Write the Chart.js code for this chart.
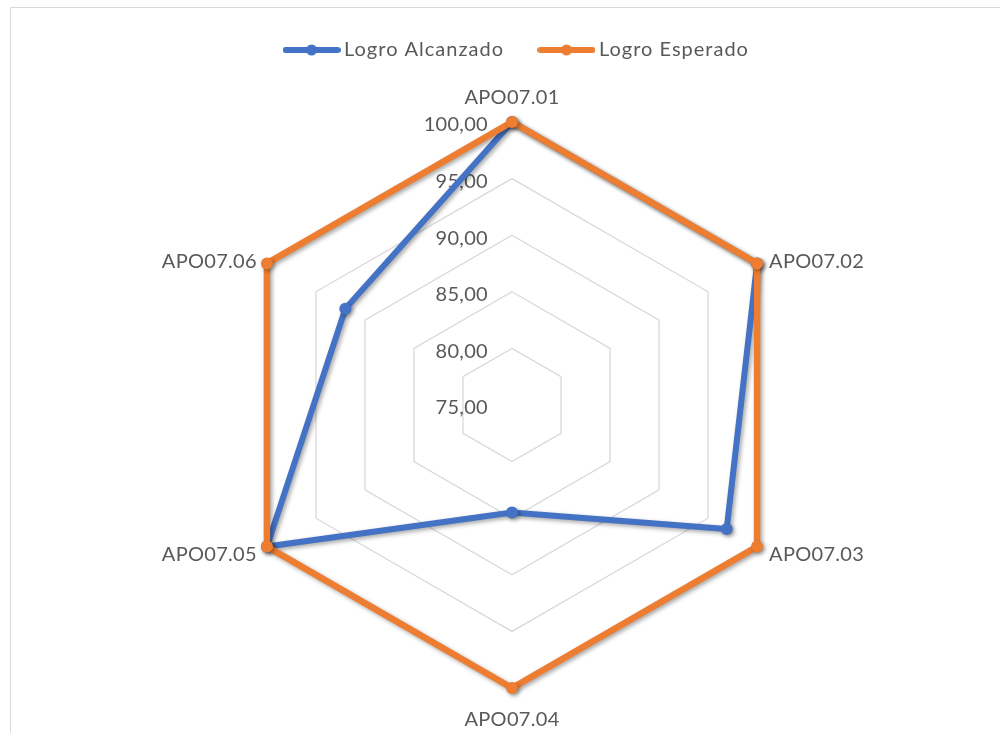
<!DOCTYPE html>
<html>
<head>
<meta charset="utf-8">
<script src="https://cdn.jsdelivr.net/npm/chart.js@4.4.1/dist/chart.umd.min.js"></script>
<style>
  html, body { margin: 0; padding: 0; background: #fff; }
  #wrap { position: relative; width: 1000px; height: 733px; overflow: hidden; }
  #frame { position: absolute; left: 10px; top: 7px; width: 1000px; height: 740px; border-left: 1px solid #d9d9d9; border-top: 1px solid #d9d9d9; }
  canvas { position: absolute; left: 0; top: 0; }
</style>
</head>
<body>
<div id="wrap">
  <div id="frame"></div>
  <canvas id="radar" width="1000" height="733"></canvas>
</div>
<script>
// datos
const categorias = ['APO07.01', 'APO07.02', 'APO07.03', 'APO07.04', 'APO07.05', 'APO07.06'];
const logroAlcanzado = [100, 100, 96.9, 84.5, 100, 92.0];
const logroEsperado = [100, 100, 100, 100, 100, 100];
const escalaMin = 75;
const escalaMax = 100;
const escalaPaso = 5;

const azul = '#4472C4';
const naranja = '#ED7D31';
const gris = '#595959';
const fuente = 'Lato, "Open Sans", sans-serif';

// icono de leyenda: linea con punto
function iconoLeyenda(color) {
  const c = document.createElement('canvas');
  c.width = 58;
  c.height = 12;
  const g = c.getContext('2d');
  g.strokeStyle = color;
  g.lineWidth = 6;
  g.lineCap = 'round';
  g.beginPath();
  g.moveTo(3, 6);
  g.lineTo(55, 6);
  g.stroke();
  g.fillStyle = color;
  g.beginPath();
  g.arc(29, 6, 5.5, 0, Math.PI * 2);
  g.fill();
  return c;
}

// sombra de las lineas como en Excel
const sombra = {
  id: 'sombra',
  beforeDatasetDraw(chart) {
    const ctx = chart.ctx;
    ctx.save();
    ctx.shadowColor = 'rgba(0,0,0,0.35)';
    ctx.shadowBlur = 4;
    ctx.shadowOffsetX = 2;
    ctx.shadowOffsetY = 2;
  },
  afterDatasetDraw(chart) {
    chart.ctx.restore();
  }
};

// espacio extra bajo la leyenda + espaciado de letras
const espaciado = {
  id: 'espaciado',
  beforeInit(chart) {
    const leyenda = chart.legend;
    const fit = leyenda.fit;
    leyenda.fit = function () {
      fit.call(this);
      this.height += 32;
    };
    const draw = leyenda.draw;
    leyenda.draw = function () {
      this.ctx.save();
      this.ctx.translate(7, 0);
      draw.call(this);
      this.ctx.restore();
    };
  },
  beforeUpdate(chart) {
    chart.ctx.letterSpacing = '1px';
  },
  beforeDraw(chart) {
    chart.ctx.letterSpacing = '1px';
  }
};

// etiquetas del eje y de las categorias al estilo Excel
const etiquetas = {
  id: 'etiquetas',
  beforeDatasetsDraw(chart) {
    const ctx = chart.ctx;
    const r = chart.scales.r;
    ctx.save();
    ctx.fillStyle = gris;
    ctx.font = '20px ' + fuente;
    ctx.letterSpacing = '0.3px';
    ctx.textAlign = 'right';
    ctx.textBaseline = 'middle';
    r.ticks.forEach(t => {
      const d = r.getDistanceFromCenterForValue(t.value);
      ctx.fillText(t.value.toFixed(2).replace('.', ','), r.xCenter - 24, r.yCenter - d + 3);
    });

    categorias.forEach((txt, i) => {
      const p = r.getPointPosition(i, r.drawingArea);
      const ang = r.getIndexAngle(i);
      const s = Math.sin(ang), c = Math.cos(ang);
      let x = p.x, y = p.y;
      if (Math.abs(s) < 0.01) {
        ctx.textAlign = 'center';
        if (c > 0) { ctx.textBaseline = 'bottom'; y -= 14; }
        else { ctx.textBaseline = 'top'; y += 22; }
      } else {
        ctx.textAlign = s > 0 ? 'left' : 'right';
        ctx.textBaseline = 'middle';
        x += s > 0 ? 12 : -10;
        y += c > 0 ? -2 : 8;
      }
      ctx.fillText(txt, x, y);
    });
    ctx.restore();
  }
};

const chart = new Chart(document.getElementById('radar'), {
  type: 'radar',
  data: {
    labels: categorias,
    datasets: [
      {
        label: 'Logro Alcanzado',
        data: logroAlcanzado,
        borderColor: azul,
        backgroundColor: azul,
        pointBackgroundColor: azul,
        borderWidth: 6,
        pointRadius: 6,
        pointBorderWidth: 0,
        fill: false,
        order: 1
      },
      {
        label: 'Logro Esperado',
        data: logroEsperado,
        borderColor: naranja,
        backgroundColor: naranja,
        pointBackgroundColor: naranja,
        borderWidth: 6.5,
        pointRadius: 6,
        pointBorderWidth: 0,
        fill: false,
        order: 0
      }
    ]
  },
  options: {
    responsive: false,
    animation: false,
    layout: {
      padding: { left: 229, right: 205, top: 0, bottom: 25 }
    },
    elements: {
      line: { tension: 0, borderJoinStyle: 'miter' }
    },
    scales: {
      r: {
        min: escalaMin,
        max: escalaMax,
        ticks: { display: false, stepSize: escalaPaso },
        grid: { color: '#d9d9d9', lineWidth: 1.3 },
        angleLines: { display: false },
        pointLabels: { display: false }
      }
    },
    plugins: {
      legend: {
        position: 'top',
        labels: {
          usePointStyle: true,
          pointStyleWidth: 45,
          padding: 40,
          color: gris,
          font: { family: fuente, size: 20 },
          generateLabels(chart) {
            return chart.data.datasets.map((ds, i) => ({
              text: ds.label,
              pointStyle: iconoLeyenda(ds.borderColor),
              fillStyle: ds.borderColor,
              strokeStyle: ds.borderColor,
              lineWidth: 0,
              fontColor: gris,
              hidden: false,
              datasetIndex: i
            }));
          }
        }
      },
      tooltip: { enabled: false }
    }
  },
  plugins: [sombra, espaciado, etiquetas]
});
</script>
</body>
</html>
